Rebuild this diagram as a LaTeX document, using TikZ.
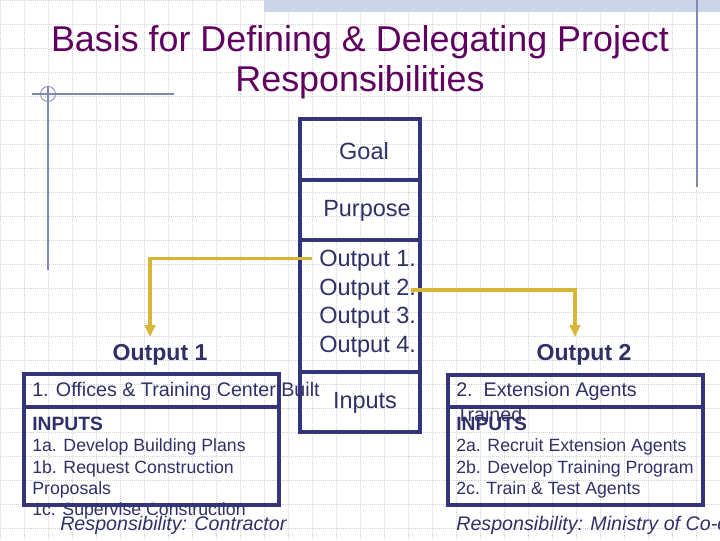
\documentclass[tikz,border=0pt]{standalone}
\usepackage{fontspec}
\setmainfont{Liberation Sans}
\usetikzlibrary{arrows.meta}

\definecolor{titlepurple}{RGB}{96,0,96}
\definecolor{boxnavy}{RGB}{52,52,122}
\definecolor{textnavy}{RGB}{48,48,104}
\definecolor{linkgold}{RGB}{216,182,58}
\definecolor{decoblue}{RGB}{128,138,180}
\definecolor{bandblue}{RGB}{204,212,232}
\definecolor{gridgrey}{RGB}{212,212,212}

\begin{document}
\begin{tikzpicture}[x=0.025cm, y=-0.025cm,
    cell/.style={draw=boxnavy, line width=2.5pt},
    link/.style={draw=linkgold, line width=2.4pt, -{Triangle[length=8.5pt,width=7.5pt]}},
    coltext/.style={text=textnavy, inner sep=0pt, font=\fontsize{16.7}{20}\selectfont},
    headtext/.style={text=textnavy, inner sep=0pt, font=\fontsize{16.4}{20}\selectfont\bfseries},
    celltext/.style={text=textnavy, inner sep=0pt, anchor=west, font=\fontsize{14}{17}\selectfont},
    inptext/.style={text=textnavy, inner sep=0pt, anchor=west, font=\fontsize{13.7}{16}\selectfont\bfseries},
    steptext/.style={text=textnavy, inner sep=0pt, anchor=west, font=\fontsize{12.6}{15}\selectfont},
    resptext/.style={text=textnavy, inner sep=0pt, anchor=west, font=\fontsize{14}{17}\selectfont\itshape}]
  \clip (0,0) rectangle (720,540);

  % background grid
  \foreach \gx in {0,24,...,720}
    \draw[gridgrey, line width=0.6pt, dash pattern=on 0.7pt off 0.7pt] (\gx,0) -- (\gx,540);
  \foreach \gy in {0,24,...,540}
    \draw[gridgrey, line width=0.6pt, dash pattern=on 0.7pt off 0.7pt] (0,\gy) -- (720,\gy);

  % slide decoration
  \fill[bandblue] (264,0) rectangle (720,12);
  \draw[decoblue, line width=0.8pt] (697,0) -- (697,187);
  \draw[decoblue, line width=0.8pt] (32,94) -- (174,94);
  \draw[decoblue, line width=0.8pt] (48,87) -- (48,270);
  \draw[decoblue, line width=0.6pt] (48,94) circle (7.5);

  % title
  \node[text=titlepurple, align=center, font=\fontsize{25.5}{28.3}\selectfont] (title) at (360,62)
    {Basis for Defining \& Delegating Project\\Responsibilities};

  % logframe column
  \node[coltext] (goal) at (364,151) {Goal};
  \node[coltext] (purpose) at (367,211) {Purpose};
  \node[coltext, anchor=west] (o1) at (319,261) {Output 1.};
  \node[coltext, anchor=west] (o2) at (319,290) {Output 2.};
  \node[coltext, anchor=west] (o3) at (319,318) {Output 3.};
  \node[coltext, anchor=west] (o4) at (319,347) {Output 4.};
  \node[coltext] (inputs) at (365,403) {Inputs};
  \draw[cell] (300,119) rectangle (420,432);
  \draw[cell] (300,180) -- (420,180);
  \draw[cell] (300,240) -- (420,240);
  \draw[cell] (300,372) -- (420,372);

  % output 1
  \node[headtext] (lbl1) at (160,355) {Output 1};
  \node[celltext] (name1) at (32,391) {1. Offices \& Training Center Built};
  \node[inptext] (inp1) at (32,424) {INPUTS};
  \node[steptext] (s1a) at (32,447) {1a. Develop Building Plans};
  \node[steptext] (s1b) at (32,469) {1b. Request Construction};
  \node[steptext] (s1b2) at (32,490) {Proposals};
  \node[steptext] (s1c) at (32,511) {1c. Supervise Construction};
  \node[resptext] (resp1) at (60,525) {Responsibility: Contractor};
  \draw[cell] (24,374) rectangle (279,407);
  \draw[cell] (24,407) rectangle (279,505);

  % output 2
  \node[headtext] (lbl2) at (584,355) {Output 2};
  \node[celltext] (name2) at (456,391) {2.\ \ Extension Agents};
  \node[celltext] (name2b) at (456,414) {Trained};
  \draw[cell] (448,375) rectangle (703,407);
  \draw[cell] (448,407) rectangle (703,505);
  \node[inptext] (inp2) at (456,424) {INPUTS};
  \node[steptext] (s2a) at (456,447) {2a. Recruit Extension Agents};
  \node[steptext] (s2b) at (456,469) {2b. Develop Training Program};
  \node[steptext] (s2c) at (456,490) {2c. Train \& Test Agents};
  \node[resptext] (resp2) at (456,525) {Responsibility: Ministry of Co-op};

  % links from the column to the outputs
  \coordinate (t1) at (150,337);
  \coordinate (t2) at (575,337);
  \draw[link] ([xshift=-5pt,yshift=2pt]o1.west) -| (t1);
  \draw[link] ([xshift=-4pt]o2.east) -| (t2);
\end{tikzpicture}
\end{document}
